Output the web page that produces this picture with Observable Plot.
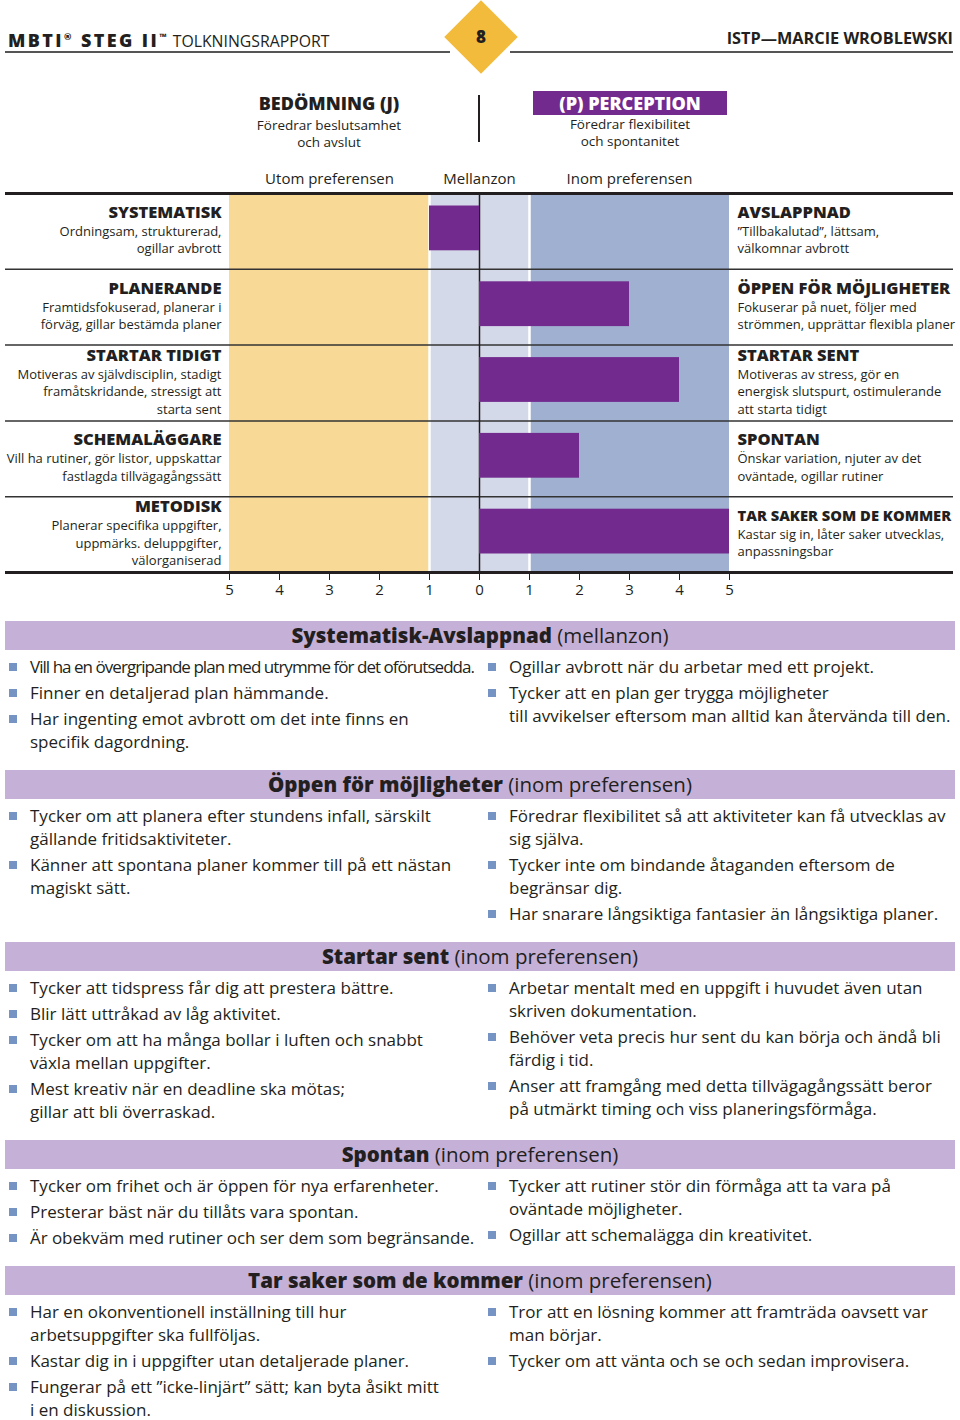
<!DOCTYPE html>
<html><head><meta charset="utf-8">
<script src="https://cdn.jsdelivr.net/npm/d3@7"></script>
<script src="https://cdn.jsdelivr.net/npm/@observablehq/plot@0.6"></script>
<style>
body{margin:0;background:#fff;font-family:"Open Sans",sans-serif;color:#231f20;}
#page{position:relative;width:960px;height:1420px;overflow:hidden;background:#fff;}
.abs{position:absolute;white-space:nowrap;}
.hline{position:absolute;height:1.5px;background:#555;top:51px;}
#diamond{position:absolute;left:455px;top:11px;width:52px;height:52px;background:#f2bb3b;transform:rotate(45deg);}
#pnum{position:absolute;left:461px;top:24px;width:40px;text-align:center;font-weight:800;font-size:17px;line-height:26px;}
.hd{position:absolute;text-align:center;width:240px;}
.hd .t{font-weight:800;font-size:18px;line-height:22px;}
.hd .s{font-size:13.5px;line-height:17px;margin-top:3px;}
#chart{position:absolute;left:0;top:150px;}
#sections{position:absolute;top:621px;left:0;width:960px;}
.band{margin-left:5px;width:950px;height:29px;background:#c5b1d7;text-align:center;font-size:20.5px;line-height:29px;}
.band b{font-weight:800;}
.cols{display:flex;padding-top:5px;margin-bottom:17px;}
.col{list-style:none;margin:0;padding:0;box-sizing:border-box;width:480px;}
.col.l{padding-left:30px;}
.col.r{padding-left:29px;}
.col li{position:relative;line-height:23px;font-size:17px;white-space:pre;}
.col li+li{margin-top:3px;}
.col li::before{content:"";position:absolute;left:-21px;top:7.5px;width:8px;height:8px;background:#7593c3;}
</style></head><body><div id="page">
<div class="abs" style="left:8px;top:25px;line-height:24px;"><span style="font-weight:800;font-size:18px;letter-spacing:2.4px;">MBTI<sup style="font-size:9px;">®</sup> STEG II<sup style="font-size:9px;">™</sup></span> <span style="font-size:15.8px;font-weight:400;">TOLKNINGSRAPPORT</span></div>
<div class="abs" style="right:7px;top:26px;line-height:24px;font-weight:700;font-size:16.3px;">ISTP—MARCIE WROBLEWSKI</div>
<div class="hline" style="left:5px;width:445px;"></div>
<div class="hline" style="left:510px;width:443px;"></div>
<div id="diamond"></div><div id="pnum">8</div>
<div class="hd" style="left:209px;top:92px;"><div class="t">BEDÖMNING (J)</div><div class="s">Föredrar beslutsamhet<br>och avslut</div></div>
<div class="abs" style="left:478px;top:95px;width:2px;height:47px;background:#231f20;"></div>
<div class="hd" style="left:510px;top:92px;"><div class="t"><span style="display:inline-block;background:#722a8e;color:#fff;width:194px;line-height:24px;margin-top:-2px;">(P) PERCEPTION</span></div><div class="s" style="margin-top:1px;">Föredrar flexibilitet<br>och spontanitet</div></div>
<div id="chart"></div>
<div id="sections"></div>
</div>
<script>
// ---- data ----
const rowLeftTitles = ["SYSTEMATISK", "PLANERANDE", "STARTAR TIDIGT", "SCHEMALÄGGARE", "METODISK"];
const rowLeftDescs = [
  "Ordningsam, strukturerad,\nogillar avbrott",
  "Framtidsfokuserad, planerar i\nförväg, gillar bestämda planer",
  "Motiveras av självdisciplin, stadigt\nframåtskridande, stressigt att\nstarta sent",
  "Vill ha rutiner, gör listor, uppskattar\nfastlagda tillvägagångssätt",
  "Planerar specifika uppgifter,\nuppmärks. deluppgifter,\nvälorganiserad"
];
const rowRightTitles = ["AVSLAPPNAD", "ÖPPEN FÖR MÖJLIGHETER", "STARTAR SENT", "SPONTAN", "TAR SAKER SOM DE KOMMER"];
const rowRightDescs = [
  "\u201DTillbakalutad\u201D, lättsam,\nvälkomnar avbrott",
  "Fokuserar på nuet, följer med\nströmmen, upprättar flexibla planer",
  "Motiveras av stress, gör en\nenergisk slutspurt, ostimulerande\natt starta tidigt",
  "Önskar variation, njuter av det\noväntade, ogillar rutiner",
  "Kastar sig in, låter saker utvecklas,\nanpassningsbar"
];
const scores = [-1, 3, 4, 2, 5];
const zoneNames = ["Utom preferensen", "Mellanzon", "Inom preferensen"];
const zoneStarts = [-5, -1, 1];
const zoneEnds = [-1, 1, 5];
const tickValues = [-5, -4, -3, -2, -1, 0, 1, 2, 3, 4, 5];

const sectionTitles = ["Systematisk-Avslappnad", "Öppen för möjligheter", "Startar sent", "Spontan", "Tar saker som de kommer"];
const sectionZones = ["mellanzon", "inom preferensen", "inom preferensen", "inom preferensen", "inom preferensen"];
const sectionLeft = [
  ["Vill ha en övergripande plan med utrymme för det oförutsedda.", "Finner en detaljerad plan hämmande.", "Har ingenting emot avbrott om det inte finns en\nspecifik dagordning."],
  ["Tycker om att planera efter stundens infall, särskilt\ngällande fritidsaktiviteter.", "Känner att spontana planer kommer till på ett nästan\nmagiskt sätt."],
  ["Tycker att tidspress får dig att prestera bättre.", "Blir lätt uttråkad av låg aktivitet.", "Tycker om att ha många bollar i luften och snabbt\nväxla mellan uppgifter.", "Mest kreativ när en deadline ska mötas;\ngillar att bli överraskad."],
  ["Tycker om frihet och är öppen för nya erfarenheter.", "Presterar bäst när du tillåts vara spontan.", "Är obekväm med rutiner och ser dem som begränsande."],
  ["Har en okonventionell inställning till hur\narbetsuppgifter ska fullföljas.", "Kastar dig in i uppgifter utan detaljerade planer.", "Fungerar på ett \u201Dicke-linjärt\u201D sätt; kan byta åsikt mitt\ni en diskussion."]
];
const sectionRight = [
  ["Ogillar avbrott när du arbetar med ett projekt.", "Tycker att en plan ger trygga möjligheter\ntill avvikelser eftersom man alltid kan återvända till den."],
  ["Föredrar flexibilitet så att aktiviteter kan få utvecklas av\nsig själva.", "Tycker inte om bindande åtaganden eftersom de\nbegränsar dig.", "Har snarare långsiktiga fantasier än långsiktiga planer."],
  ["Arbetar mentalt med en uppgift i huvudet även utan\nskriven dokumentation.", "Behöver veta precis hur sent du kan börja och ändå bli\nfärdig i tid.", "Anser att framgång med detta tillvägagångssätt beror\npå utmärkt timing och viss planeringsförmåga."],
  ["Tycker att rutiner stör din förmåga att ta vara på\noväntade möjligheter.", "Ogillar att schemalägga din kreativitet."],
  ["Tror att en lösning kommer att framträda oavsett var\nman börjar.", "Tycker om att vänta och se och sedan improvisera."]
];

// ---- chart ----
const zoneColors = ["#f8d996", "#d4d9e9", "#9fb0d1"];
const rows = rowLeftTitles.map((t, i) => ({
  i, lt: t, ld: rowLeftDescs[i], rt: rowRightTitles[i], rd: rowRightDescs[i], v: scores[i],
  nl: rowLeftDescs[i].split("\n").length, nr: rowRightDescs[i].split("\n").length
}));
const zones = zoneNames.map((n, k) => ({name: n, x1: zoneStarts[k], x2: zoneEnds[k], fill: zoneColors[k]}));

const LH = 17.5;
const TITLE_FS = 16.5, DESC_FS = 13;
const labelMarks = [];
for (const side of ["l", "r"]) {
  const left = side === "l";
  for (const n of [2, 3]) {
    const sub = rows.filter(d => (left ? d.nl : d.nr) === n);
    labelMarks.push(Plot.text(sub, {
      x: left ? -5 : 5, y: d => d.i + 0.5, text: left ? "lt" : "rt",
      dx: left ? -8 : 8, dy: -n * LH / 2 - 1.2, textAnchor: left ? "end" : "start",
      fontSize: TITLE_FS, fontWeight: 800, fill: "#231f20", className: "rowtitle"
    }));
  }
  labelMarks.push(Plot.text(rows, {
    x: left ? -5 : 5, y: d => d.i + 0.5, text: left ? "ld" : "rd",
    dx: left ? -8 : 8, dy: LH / 2 - 1.2, textAnchor: left ? "end" : "start",
    fontSize: DESC_FS, lineHeight: LH / DESC_FS, fill: "#231f20", className: "rowdesc"
  }));
}

const chart = Plot.plot({
  width: 960, height: 455,
  marginLeft: 5, marginRight: 7, marginTop: 43, marginBottom: 33,
  x: {domain: [-9.48, 9.48]},
  y: {domain: [0, 5], reverse: true, axis: null},
  color: {type: "identity"},
  style: {fontFamily: "Open Sans", fontSize: "14px", color: "#231f20", background: "transparent"},
  marks: [
    Plot.rect(zones, {x1: "x1", x2: "x2", y1: 0, y2: 5, fill: "fill"}),
    Plot.ruleX([zoneStarts[1], zoneEnds[1]], {stroke: "white", strokeWidth: 2.5}),
    Plot.ruleY([1, 2, 3, 4], {stroke: "#333", strokeWidth: 1.5}),
    Plot.ruleX([0], {stroke: "#231f20", strokeWidth: 1.5}),
    Plot.rect(rows, {x1: 0, x2: "v", y1: "i", y2: d => d.i + 1, insetTop: 12.5, insetBottom: 18.5, fill: "#722a8e"}),
    Plot.ruleY([0, 5], {stroke: "#231f20", strokeWidth: 3}),
    Plot.axisX({ticks: tickValues, tickFormat: d => Math.abs(d), tickSize: 8, tickPadding: 4, fontSize: 15, label: null, stroke: "#231f20"}),
    Plot.text(zones, {x: d => (d.x1 + d.x2) / 2, frameAnchor: "top", lineAnchor: "middle", dy: -14, text: "name", fontSize: 15, fill: "#231f20"}),
    ...labelMarks
  ]
});
document.getElementById("chart").appendChild(chart);

// shrink single-line row titles that would run past the page edges
chart.querySelectorAll(".rowtitle text").forEach(t => {
  const r = t.getBoundingClientRect();
  const over = Math.max(0, 6 - r.left) + Math.max(0, r.right - 952);
  if (over > 0 && r.width > 0) {
    t.setAttribute("font-size", (TITLE_FS * (r.width - over) / r.width).toFixed(2));
  }
});

// ---- sections ----
const secRoot = document.getElementById("sections");
const spans = [];
sectionTitles.forEach((t, k) => {
  const sec = document.createElement("div");
  const band = document.createElement("div");
  band.className = "band";
  const b = document.createElement("b"); b.textContent = t;
  band.appendChild(b);
  band.appendChild(document.createTextNode(" (" + sectionZones[k] + ")"));
  sec.appendChild(band);
  const cols = document.createElement("div"); cols.className = "cols";
  for (const [cls, items] of [["l", sectionLeft[k]], ["r", sectionRight[k]]]) {
    const ul = document.createElement("ul"); ul.className = "col " + cls;
    for (const it of items) {
      const li = document.createElement("li");
      const sp = document.createElement("span"); sp.textContent = it;
      li.appendChild(sp); ul.appendChild(li); spans.push(sp);
    }
    cols.appendChild(ul);
  }
  sec.appendChild(cols);
  secRoot.appendChild(sec);
});
// condense any bullet line wider than its column
spans.forEach(sp => {
  const w = sp.getBoundingClientRect().width;
  const maxW = 444;
  if (w > maxW) {
    const longest = sp.textContent.split("\n").reduce((a, b) => a.length > b.length ? a : b);
    sp.style.letterSpacing = (-(w - maxW) / longest.length).toFixed(2) + "px";
  }
});
</script></body></html>
